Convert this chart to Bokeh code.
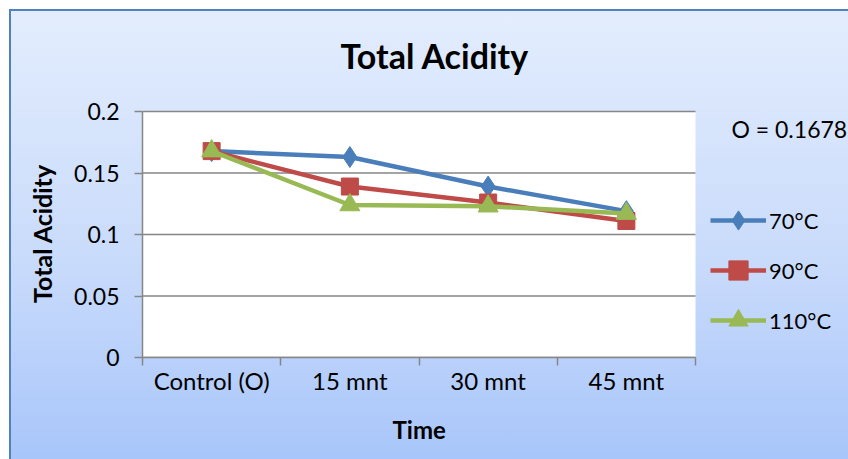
from bokeh.plotting import figure
from bokeh.models import (Range1d, FixedTicker, Legend, LegendItem, Label, Title)
from bokeh.embed import file_html
from bokeh.resources import INLINE

# ---- data ----
categories = ["Control (O)", "15 mnt", "30 mnt", "45 mnt"]
series_names = ["70°C", "90°C", "110°C"]
vals_70 = [0.1678, 0.163, 0.139, 0.119]
vals_90 = [0.1678, 0.139, 0.126, 0.111]
vals_110 = [0.1678, 0.124, 0.123, 0.117]
yticks = [0, 0.05, 0.1, 0.15, 0.2]
ytick_labels = ["0", "0.05", "0.1", "0.15", "0.2"]
control_note = "O = 0.1678"
x_title = "Time"
y_title = "Total Acidity"
chart_title = "Total Acidity"

FONT = "Lato"
GRID = "#868686"
EDGE = "#4f81bd"

# ---- layout (pixels) ----
W, H = 848, 459
LEFT, TOP, BOTTOM = 142, 110, 102
PLOT_W = 553          # width of the white plot area
PLOT_H = H - TOP - BOTTOM
FRAME_W = W - LEFT
n = len(categories)
ymax = max(yticks)
pad = 2 * ymax / (PLOT_H - 2)

xs = [i + 0.5 for i in range(n)]
bounds = list(range(n + 1))

p = figure(width=W, height=H, output_backend="svg", toolbar_location=None,
           x_range=Range1d(0, n * FRAME_W / PLOT_W), y_range=Range1d(0, ymax + pad),
           min_border_left=LEFT, min_border_right=0,
           min_border_top=TOP - 2, min_border_bottom=BOTTOM)
p.border_fill_color = None
p.background_fill_color = None
p.outline_line_color = None
p.styles = {
    "background-image": (
        f"linear-gradient({EDGE}, {EDGE}), "
        f"linear-gradient({EDGE}, {EDGE}), "
        "linear-gradient(180deg, #e3edfd 0%, #c9dbfb 55%, #a7c5fa 100%)"
    ),
    "background-position": "9px 9px, 9px 9px, 9px 9px",
    "background-size": "2px 100%, 100% 2px, 100% 100%",
    "background-repeat": "no-repeat",
}

# white plot area and grid lines
p.quad(left=0, right=n, bottom=0, top=ymax, fill_color="white", line_color=None)
p.segment(x0=[0] * len(yticks), x1=[n] * len(yticks), y0=yticks, y1=yticks,
          line_color=GRID, line_width=1.5)

# title
p.title.text = chart_title
p.title.text_font = FONT
p.title.text_font_size = "34px"
p.title.text_font_style = "bold"
p.title.text_color = "black"
p.title.align = "left"
p.title.vertical_align = "middle"
p.title.offset = 198
p.title.standoff = 66

# x axis
xa = p.xaxis[0]
xa.bounds = (0, n)
xa.ticker = FixedTicker(ticks=xs, minor_ticks=bounds)
xa.major_label_overrides = {x: c for x, c in zip(xs, categories)}
xa.major_tick_out = 0
xa.major_tick_in = 0
xa.minor_tick_out = 8
xa.minor_tick_in = 0
xa.minor_tick_line_color = GRID
xa.minor_tick_line_width = 1.5
xa.axis_line_color = GRID
xa.axis_line_width = 1.5
xa.major_label_text_font = FONT
xa.major_label_text_font_size = "24px"
xa.major_label_text_color = "black"
xa.major_label_standoff = 0

# x axis title, placed under the plot area
p.add_layout(Title(text=x_title, align="left", offset=250, standoff=30,
                   text_font=FONT, text_font_size="24px", text_font_style="bold",
                   text_color="black"), "below")

# y axis
ya = p.yaxis[0]
ya.bounds = (0, ymax)
ya.ticker = FixedTicker(ticks=yticks, minor_ticks=[])
ya.major_label_overrides = {t: l for t, l in zip(yticks, ytick_labels)}
ya.major_tick_out = 8
ya.major_tick_in = 0
ya.major_tick_line_color = GRID
ya.major_tick_line_width = 1.5
ya.axis_line_color = GRID
ya.axis_line_width = 1.5
ya.major_label_text_font = FONT
ya.major_label_text_font_size = "23px"
ya.major_label_text_color = "black"
ya.major_label_standoff = 15
ya.axis_label = y_title
ya.axis_label_text_font = FONT
ya.axis_label_text_font_size = "25px"
ya.axis_label_text_font_style = "bold"
ya.axis_label_text_color = "black"
ya.axis_label_standoff = 14

p.xgrid.visible = False
p.ygrid.visible = False

colors = ["#4a7ebb", "#be4b48", "#98b954"]
markers = [("diamond", 21), ("square", 17), ("triangle", 20)]
items = []
for name, vals, col, (mk, sz) in zip(series_names, [vals_70, vals_90, vals_110], colors, markers):
    lr = p.line(xs, vals, line_color=col, line_width=4.5)
    sr = p.scatter(xs, vals, marker=mk, size=sz,
                   fill_color=col, line_color=col, line_width=1)
    items.append(LegendItem(label=name, renderers=[lr, sr]))

legend = Legend(items=items, location=(568, 13), glyph_width=56, glyph_height=48,
                label_standoff=3, spacing=2, padding=0, margin=0,
                border_line_color=None, background_fill_alpha=0,
                label_text_font=FONT, label_text_font_size="22px",
                label_text_color="black", label_height=20)
p.add_layout(legend)

p.add_layout(Label(x=589, y=229, x_units="screen", y_units="screen",
                   text=control_note, text_font=FONT, text_font_size="23px",
                   text_color="black", text_baseline="middle", text_align="left"))

open("out.html", "w").write(file_html(p, INLINE))
